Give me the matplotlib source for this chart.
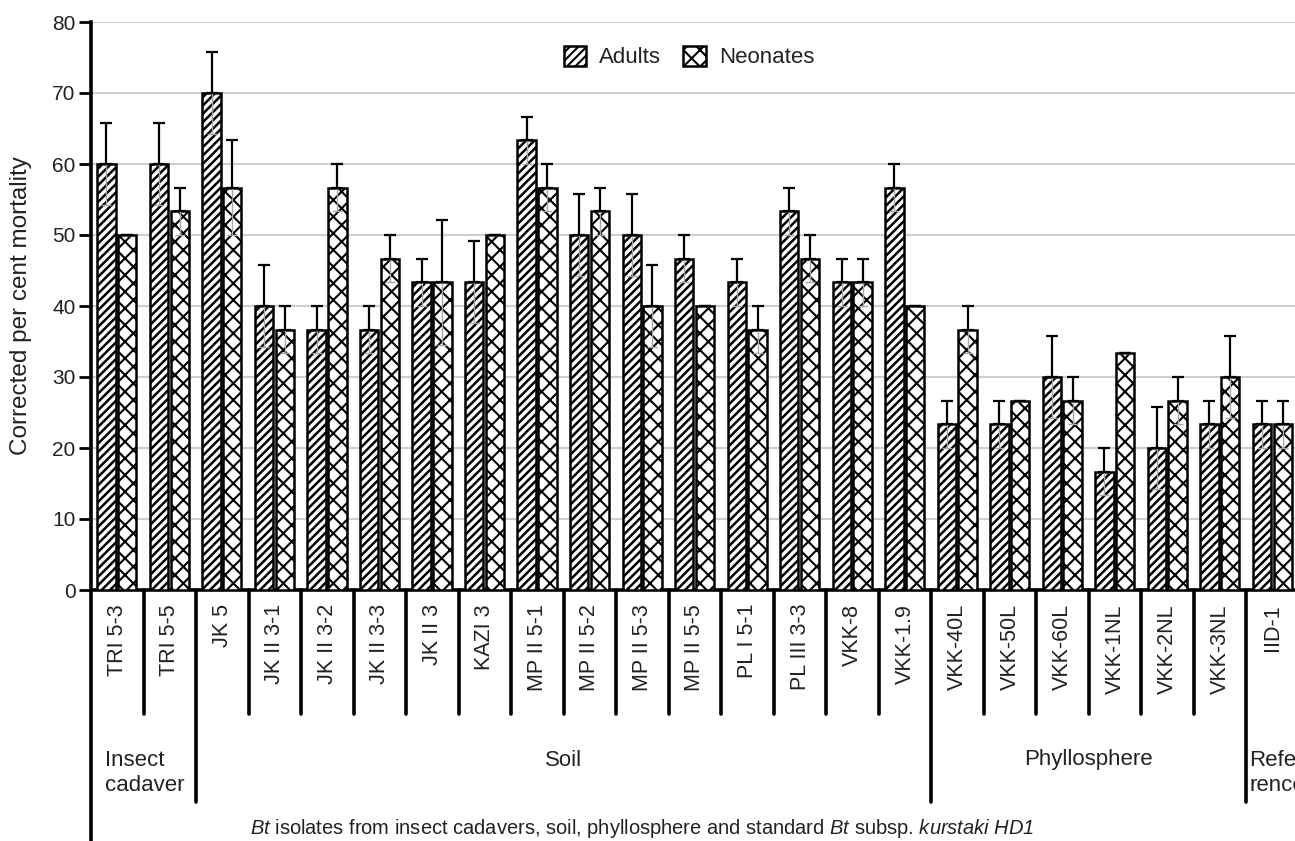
import matplotlib
matplotlib.use("Agg")
import matplotlib.pyplot as plt
import numpy as np
from matplotlib.transforms import blended_transform_factory

plt.rcParams['font.family'] = ['Liberation Sans', 'DejaVu Sans']
plt.rcParams['mathtext.fontset'] = 'custom'
plt.rcParams['mathtext.rm'] = 'Liberation Sans:italic'
plt.rcParams['mathtext.it'] = 'Liberation Sans:italic'

categories = ["TRI 5-3", "TRI 5-5", "JK 5", "JK II 3-1", "JK II 3-2", "JK II 3-3",
              "JK II 3", "KAZI 3", "MP II 5-1", "MP II 5-2", "MP II 5-3", "MP II 5-5",
              "PL I 5-1", "PL III 3-3", "VKK-8", "VKK-1.9", "VKK-40L", "VKK-50L",
              "VKK-60L", "VKK-1NL", "VKK-2NL", "VKK-3NL", "IID-1"]
adults = [60, 60, 70, 40, 36.67, 36.67, 43.33, 43.33, 63.33, 50, 50, 46.67,
          43.33, 53.33, 43.33, 56.67, 23.33, 23.33, 30, 16.67, 20, 23.33, 23.33]
adults_err = [5.77, 5.77, 5.77, 5.77, 3.33, 3.33, 3.33, 5.77, 3.33, 5.77, 5.77, 3.33,
              3.33, 3.33, 3.33, 3.33, 3.33, 3.33, 5.77, 3.33, 5.77, 3.33, 3.33]
neonates = [50, 53.33, 56.67, 36.67, 56.67, 46.67, 43.33, 50, 56.67, 53.33, 40, 40,
            36.67, 46.67, 43.33, 40, 36.67, 26.67, 26.67, 33.33, 26.67, 30, 23.33]
neonates_err = [0, 3.33, 6.67, 3.33, 3.33, 3.33, 8.82, 0, 3.33, 3.33, 5.77, 0,
                3.33, 3.33, 3.33, 0, 3.33, 0, 3.33, 0, 3.33, 5.77, 3.33]
groups = [("Insect\ncadaver", 0, 2), ("Soil", 2, 16), ("Phyllosphere", 16, 22), ("Refer\nrence", 22, 23)]
yticks = [0, 10, 20, 30, 40, 50, 60, 70, 80]

W, H = 1295, 841
fig = plt.figure(figsize=(W / 100, H / 100), dpi=100)
x0, x1, ytop, ybot = 91, 1299, 22, 590
ax = fig.add_axes([x0 / W, 1 - ybot / H, (x1 - x0) / W, (ybot - ytop) / H])

n = len(categories)
x = np.arange(n) + 0.5
bw = 0.35
xa = x - 0.205
xn = x + 0.19
txtc = '#222222'

plt.rcParams['hatch.linewidth'] = 1.8
ax.bar(xa, adults, bw, facecolor='white', edgecolor='black', hatch='////',
       linewidth=1.8, zorder=3, label='Adults')
plt.rcParams['hatch.linewidth'] = 1.5
ax.bar(xn, neonates, bw, facecolor='white', edgecolor='black', hatch='xx',
       linewidth=1.8, zorder=3, label='Neonates')

z = np.zeros(n)
# faint lower error bars inside bars
ax.errorbar(xa, adults, yerr=[adults_err, z], fmt='none', ecolor='#a8a8a8',
            elinewidth=1.0, capsize=3.5, capthick=1.0, zorder=4)
ax.errorbar(xn, neonates, yerr=[neonates_err, z], fmt='none', ecolor='#a8a8a8',
            elinewidth=1.0, capsize=3.5, capthick=1.0, zorder=4)
# upper error bars
ax.errorbar(xa, adults, yerr=[z, adults_err], fmt='none', ecolor='black',
            elinewidth=1.6, capsize=4, capthick=1.6, zorder=5)
ax.errorbar(xn, neonates, yerr=[z, neonates_err], fmt='none', ecolor='black',
            elinewidth=1.6, capsize=4, capthick=1.6, zorder=5)

ax.set_xlim(0, n)
ax.set_ylim(0, 80)
ax.set_yticks(yticks)
ax.set_yticklabels([str(t) for t in yticks], fontsize=15, color=txtc)
ax.tick_params(axis='y', length=9, width=2, pad=2)
ax.set_xticks([])
for t in yticks[1:]:
    ax.axhline(t, color='#cfcfcf', lw=1.5, zorder=1)

for s in ['top', 'right']:
    ax.spines[s].set_visible(False)
ax.spines['left'].set_linewidth(2.6)
ax.spines['bottom'].set_linewidth(2.6)

tr = blended_transform_factory(ax.transData, ax.transAxes)
px = 1.0 / (ybot - ytop)  # one pixel in axes fraction

# left spine extension
ax.plot([0, 0], [0, -260 * px], transform=tr, color='black', lw=2.6, clip_on=False,
        solid_capstyle='butt')
group_edges = set()
for _, a, b in groups:
    group_edges.add(a)
    group_edges.add(b)
for i in range(1, n):
    bottom = -212 * px if i in group_edges else -124 * px
    ax.plot([i, i], [0, bottom], transform=tr, color='black', lw=2.6, clip_on=False,
            solid_capstyle='round')

for xi, c in zip(x, categories):
    ax.text(xi, -14 * px, c, rotation=90, ha='center', va='top', fontsize=15.5,
            color=txtc, transform=tr, clip_on=False)

for name, a, b in groups:
    if name.startswith("Insect"):
        ax.text(a + 0.27, -183 * px, name, ha='left', va='center', fontsize=16,
                color=txtc, transform=tr, linespacing=1.2)
    elif name.startswith("Refer"):
        ax.text(a + 0.05, -183 * px, name, ha='left', va='center', fontsize=16,
                color=txtc, transform=tr, linespacing=1.2)
    else:
        ax.text((a + b) / 2, -170 * px, name, ha='center', va='center', fontsize=16,
                color=txtc, transform=tr)

fig.text(642 / W, 1 - 829 / H,
         r"$\it{Bt}$ isolates from insect cadavers, soil, phyllosphere and standard $\it{Bt}$ subsp. $\it{kurstaki\ HD1}$",
         ha='center', va='center', fontsize=14.5, color=txtc)
fig.text(21 / W, 1 - 306 / H, "Corrected per cent mortality", rotation=90,
         ha='center', va='center', fontsize=17.5, color=txtc)

leg = ax.legend(loc='center', bbox_to_anchor=(0.495, 1 - (57 - ytop) * px), ncol=2,
                frameon=False, fontsize=16, handlelength=1.0, handleheight=1.0,
                columnspacing=1.0, handletextpad=0.6)
for t in leg.get_texts():
    t.set_color(txtc)

fig.savefig('out.png', dpi=100)
